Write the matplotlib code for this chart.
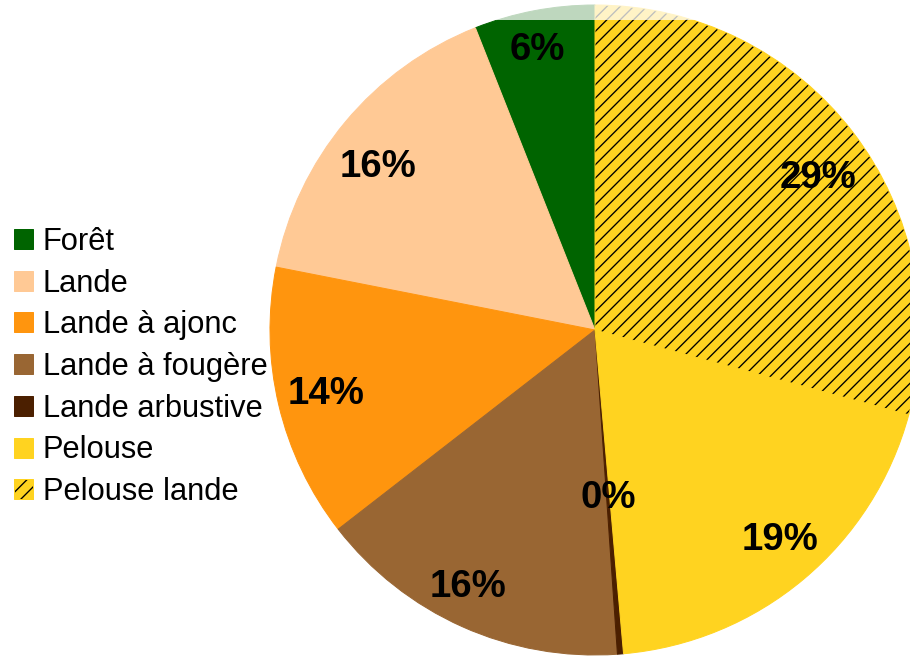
import matplotlib
matplotlib.use("Agg")
import matplotlib.pyplot as plt
from matplotlib.patches import Rectangle
import numpy as np

plt.rcParams['font.family'] = ['Liberation Sans', 'DejaVu Sans']
plt.rcParams['hatch.linewidth'] = 0.8

categories = ["Forêt", "Lande", "Lande à ajonc", "Lande à fougère",
              "Lande arbustive", "Pelouse", "Pelouse lande"]
values = [6.0, 15.9, 13.6, 15.6, 0.3, 19.4, 29.2]
colors = ["#006400", "#FFC995", "#FF950E", "#996633", "#4B1F00", "#FFD320", "#FFD320"]
hatches = [None, None, None, None, None, None, "///"]

# label placement (style): radial distance and small angular nudge per slice
label_dist = [0.892, 0.842, 0.848, 0.871, 0.506, 0.852, 0.837]
label_nudge = [0.7, 2.2, -0.7, -2.6, 0.0, 1.9, -2.4]

DPI = 120
W, H = 910, 656
fig = plt.figure(figsize=(W / DPI, H / DPI), dpi=DPI)

# pie centre (595, 330) px, radius 325 px
cx, cy, R = 595, 330, 325
ax = fig.add_axes([(cx - R) / W, (H - cy - R) / H, 2 * R / W, 2 * R / H])

wedges, texts, autotexts = ax.pie(
    values, colors=colors, startangle=90, counterclock=True,
    autopct=lambda p: f"{p:.0f}%", pctdistance=0.85,
    wedgeprops=dict(linewidth=0.6),
    textprops=dict(fontsize=23, fontweight='bold', color='black'))

for w, c, h in zip(wedges, colors, hatches):
    w.set_edgecolor(c)
    if h:
        w.set_hatch(h)
        w._hatch_color = (0, 0, 0, 1)

for w, t, d, n in zip(wedges, autotexts, label_dist, label_nudge):
    t.set_va('center_baseline')
    mid = np.deg2rad((w.theta1 + w.theta2) / 2 + n)
    t.set_position((d * np.cos(mid), d * np.sin(mid)))

ax.set_xlim(-1, 1)
ax.set_ylim(-1, 1)
ax.set_aspect('equal')
ax.axis('off')

fig.legend(wedges, categories, loc='center left',
           bbox_to_anchor=(14 / W, 1 - 367 / H), frameon=False,
           fontsize=18.5, handlelength=0.62, handleheight=0.62,
           handletextpad=0.32, labelspacing=0.38, borderpad=0, borderaxespad=0)

fade = Rectangle((0, 1 - 20 / H), 1, 20 / H, transform=fig.transFigure,
                 facecolor='white', edgecolor='none', alpha=0.75, zorder=10)
fig.add_artist(fade)

fig.savefig("out.png", dpi=DPI)
